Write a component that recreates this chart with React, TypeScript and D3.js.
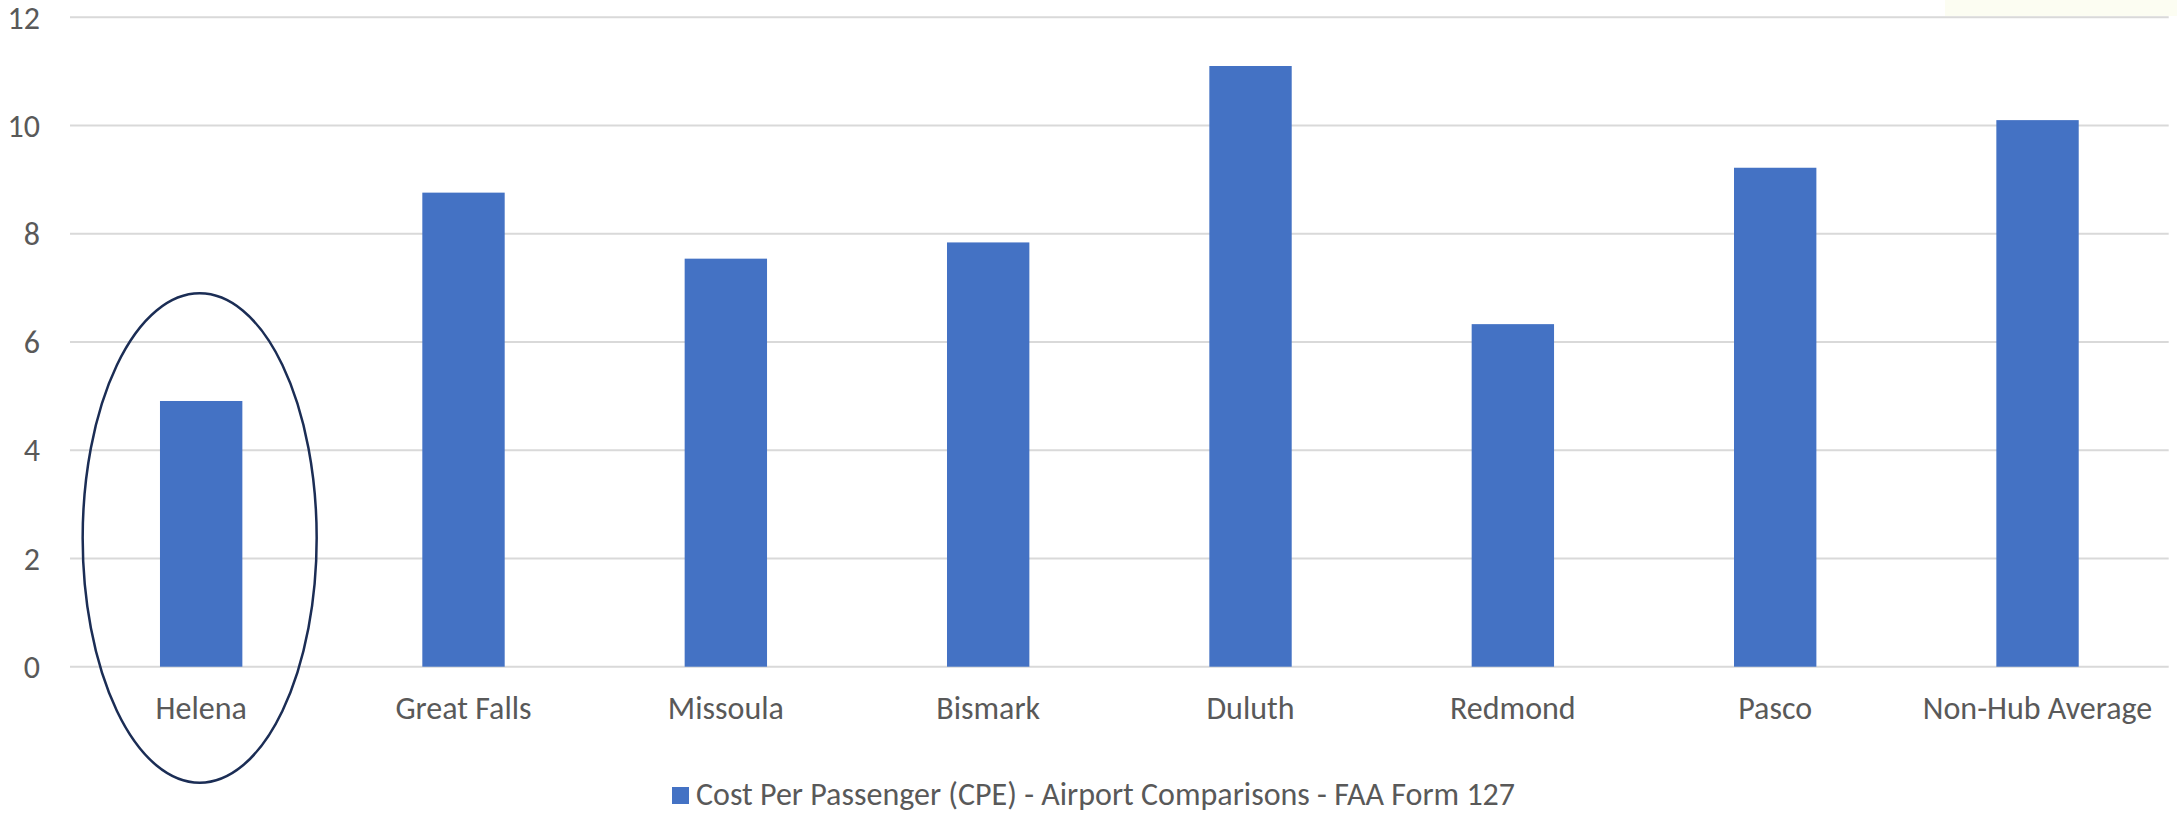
import React from "react";
import * as d3 from "d3";

const categories = ["Helena", "Great Falls", "Missoula", "Bismark", "Duluth", "Redmond", "Pasco", "Non-Hub Average"];
const values = [4.91, 8.76, 7.54, 7.84, 11.1, 6.33, 9.22, 10.1];
const yTicks = [0, 2, 4, 6, 8, 10, 12];
const seriesName = "Cost Per Passenger (CPE) - Airport Comparisons - FAA Form 127";

const W = 2177;
const H = 815;
const FONT = "Carlito, Calibri, 'Liberation Sans', Arial, sans-serif";
const TEXT = "#595959";
const BAR = "#4472C4";
const GRID = "#d9d9d9";
const FS = 32;

export default function App() {
  const x = d3
    .scaleBand<string>()
    .domain(categories)
    .range([70, 2168.7])
    .paddingInner(0.686)
    .paddingOuter(0.343);
  const y = d3.scaleLinear().domain([0, 12]).range([666.7, 17.3]);

  const helenaCx = (x("Helena") as number) + x.bandwidth() / 2;

  return (
    <svg
      width={W}
      height={H}
      viewBox={`0 0 ${W} ${H}`}
      style={{ position: "absolute", left: 0, top: 0, background: "#fff" }}
      fontFamily={FONT}
    >
      <rect x={0} y={0} width={W} height={H} fill="#ffffff" />
      <rect x={1945} y={0} width={232} height={16} fill="#fcfdf2" />
      {yTicks.map((t) => (
        <g key={t}>
          <line x1={70} x2={2168.7} y1={y(t)} y2={y(t)} stroke={GRID} strokeWidth={2} />
          <text x={40} y={y(t)} dy="0.35em" textAnchor="end" fontSize={FS} fill={TEXT}>
            {t}
          </text>
        </g>
      ))}
      {categories.map((c, i) => (
        <rect
          key={c}
          x={x(c) as number}
          y={y(values[i])}
          width={x.bandwidth()}
          height={y(0) - y(values[i])}
          fill={BAR}
        />
      ))}
      {categories.map((c) => (
        <text
          key={c}
          x={(x(c) as number) + x.bandwidth() / 2}
          y={719}
          textAnchor="middle"
          fontSize={FS}
          fill={TEXT}
        >
          {c}
        </text>
      ))}
      <ellipse cx={helenaCx - 1.5} cy={538} rx={117} ry={244.7} fill="none" stroke="#1b2d55" strokeWidth={2.5} />
      <rect x={672} y={787} width={17} height={17} fill={BAR} />
      <text x={696} y={805} fontSize={FS} fill={TEXT}>
        {seriesName}
      </text>
    </svg>
  );
}
